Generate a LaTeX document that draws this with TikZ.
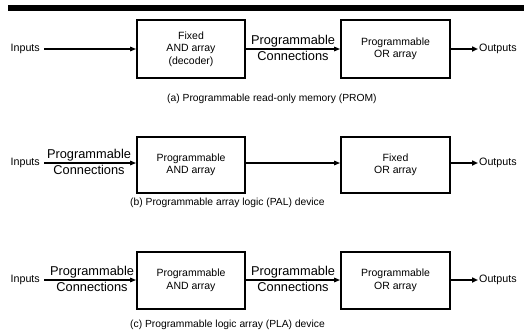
\documentclass[tikz,border=0pt]{standalone}
\usepackage{fontspec}
\setmainfont{Liberation Sans}
\usetikzlibrary{arrows.meta}
\begin{document}
\begin{tikzpicture}[x=1pt,y=-1pt,
  blk/.style={draw,line width=1.8pt,inner sep=0pt},
  btxt/.style={font=\fontsize{10.5}{12.5}\selectfont,align=center},
  lbl/.style={font=\fontsize{10.7}{12}\selectfont,inner sep=1pt},
  big/.style={font=\fontsize{12.8}{14}\selectfont,inner sep=0.5pt},
  captxt/.style={font=\fontsize{10.3}{12}\selectfont,anchor=west,inner sep=0pt},
  con/.style={line width=1.3pt,-{Triangle[length=6pt,width=4.5pt]}},
  incon/.style={con,shorten <=3pt},
  outc/.style={line width=1.8pt,-{Triangle[length=6pt,width=5pt]}}]
\useasboundingbox (0,0) rectangle (524,333);
\fill (8,5) rectangle (524,11);
% ---- (a)
\node[blk,minimum width=108pt,minimum height=58pt] (a1) at (191,49) {};
\node[btxt] at (a1.center) {Fixed\\AND array\\(decoder)};
\node[blk,minimum width=109pt,minimum height=58pt] (a2) at (395.5,49) {};
\node[btxt] at (a2.center) {Programmable\\OR array};
\node[lbl,anchor=east] (ain) at (41,49) {Inputs};
\node[lbl,anchor=west] (aout) at (478,49) {Outputs};
\draw[incon] (ain.east) -- (a1.west);
\draw[con] (a1.east) -- (a2.west);
\draw[outc] (a2.east) -- (aout.west);
\node[big,anchor=south] at (293,47.5) {Programmable};
\node[big,anchor=north] at (293,51) {Connections};
\node[captxt] (acap) at (167,99) {(a) Programmable read-only memory (PROM)};
% ---- (b)
\node[blk,minimum width=108pt,minimum height=56pt] (b1) at (191,165) {};
\node[btxt] at (b1.center) {Programmable\\AND array};
\node[blk,minimum width=109pt,minimum height=56pt] (b2) at (395.5,165) {};
\node[btxt] at (b2.center) {Fixed\\OR array};
\node[lbl,anchor=east] (bin) at (41,163) {Inputs};
\node[lbl,anchor=west] (bout) at (478,163) {Outputs};
\draw[incon] (bin.east) -- (b1.west |- bin.east);
\draw[con] (b1.east |- bin.east) -- (b2.west |- bin.east);
\draw[outc] (b2.east |- bout.west) -- (bout.west);
\node[big,anchor=south] at (89,161.5) {Programmable};
\node[big,anchor=north] at (89,165) {Connections};
\node[captxt] (bcap) at (130,203) {(b) Programmable array logic (PAL) device};
% ---- (c)
\node[blk,minimum width=108pt,minimum height=57pt] (c1) at (191,280.5) {};
\node[btxt] at (c1.center) {Programmable\\AND array};
\node[blk,minimum width=109pt,minimum height=57pt] (c2) at (395.5,280.5) {};
\node[btxt] at (c2.center) {Programmable\\OR array};
\node[lbl,anchor=east] (cin) at (41,280) {Inputs};
\node[lbl,anchor=west] (cout) at (478,280) {Outputs};
\draw[incon] (cin.east) -- (c1.west |- cin.east);
\draw[con] (c1.east |- cin.east) -- (c2.west |- cin.east);
\draw[outc] (c2.east |- cout.west) -- (cout.west);
\node[big,anchor=south] at (92,278.5) {Programmable};
\node[big,anchor=north] at (92,282) {Connections};
\node[big,anchor=south] at (293,278.5) {Programmable};
\node[big,anchor=north] at (293,282) {Connections};
\node[captxt] (ccap) at (130,325) {(c) Programmable logic array (PLA) device};
\end{tikzpicture}
\end{document}
